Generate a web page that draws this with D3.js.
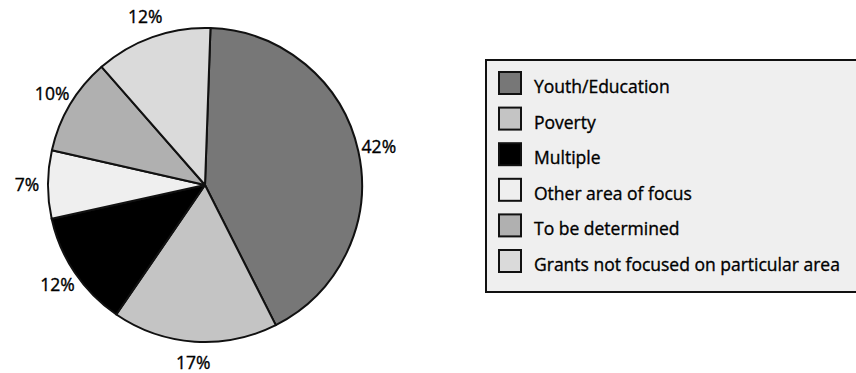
<!DOCTYPE html>
<html>
<head>
<meta charset="utf-8">
<script src="https://cdn.jsdelivr.net/npm/d3@7"></script>
<style>
  body { margin: 0; background: #fff; }
  text { font-family: "Open Sans", "Noto Sans", sans-serif; fill: #000; stroke: #000; stroke-width: 0.35px; }
</style>
</head>
<body>
<svg width="856" height="373"></svg>
<script>
//dati del grafico
const categories = [
  "Youth/Education",
  "Poverty",
  "Multiple",
  "Other area of focus",
  "To be determined",
  "Grants not focused on particular area"
];
const values = [42, 17, 12, 7, 10, 12];
const sliceColors = ["#777777", "#c4c4c4", "#000000", "#efefef", "#b0b0b0", "#dadada"];

const svg = d3.select("svg");
const width = +svg.attr("width");
const height = +svg.attr("height");

const cx = 205, cy = 185, radius = 157;
const startAngle = 2 * Math.PI / 180;

const data = categories.map((c, i) => ({ name: c, value: values[i], color: sliceColors[i] }));

const pie = d3.pie()
  .value(d => d.value)
  .sort(null)
  .startAngle(startAngle)
  .endAngle(startAngle + 2 * Math.PI);

const arc = d3.arc().innerRadius(0).outerRadius(radius);
const labelArc = d3.arc().innerRadius(178).outerRadius(178);

const pieGroup = svg.append("g")
  .attr("transform", `translate(${cx}, ${cy})`);

// spicchi
pieGroup.selectAll(".slice")
  .data(pie(data))
  .join("path")
  .attr("class", "slice")
  .attr("d", arc)
  .attr("fill", d => d.data.color)
  .attr("stroke", "#111")
  .attr("stroke-width", 2)
  .attr("stroke-linejoin", "round");

// etichette percentuali
pieGroup.selectAll(".pct")
  .data(pie(data))
  .join("text")
  .attr("class", "pct")
  .attr("transform", d => `translate(${labelArc.centroid(d)})`)
  .attr("text-anchor", "middle")
  .attr("dy", "0.35em")
  .attr("font-size", "17.5px")
  .text(d => d.data.value + "%");

// legenda
const legend = svg.append("g")
  .attr("transform", "translate(486, 60)");

legend.append("rect")
  .attr("x", 0)
  .attr("y", 0)
  .attr("width", 372)
  .attr("height", 232)
  .attr("fill", "#efefef")
  .attr("stroke", "#111")
  .attr("stroke-width", 2);

const rowY = d3.scaleLinear().domain([0, categories.length - 1]).range([12, 190]);

const rows = legend.selectAll(".row")
  .data(data)
  .join("g")
  .attr("class", "row")
  .attr("transform", (d, i) => `translate(0, ${rowY(i)})`);

rows.append("rect")
  .attr("x", 13)
  .attr("y", 0)
  .attr("width", 22)
  .attr("height", 22)
  .attr("fill", d => d.color)
  .attr("stroke", "#111")
  .attr("stroke-width", 2);

rows.append("text")
  .attr("x", 48)
  .attr("y", 21)
  .attr("font-size", "17.5px")
  .text(d => d.name);
</script>
</body>
</html>
